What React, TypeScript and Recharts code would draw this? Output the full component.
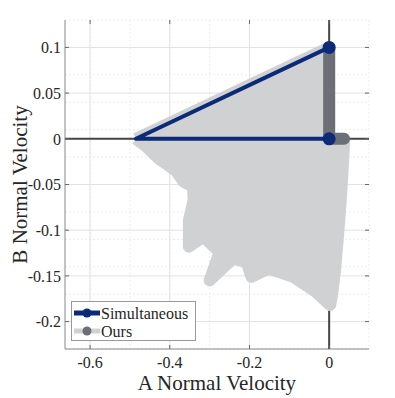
import React from "react";
import {
  ScatterChart,
  Scatter,
  XAxis,
  YAxis,
  CartesianGrid,
} from "recharts";

// axis ticks
const xTicks = [-0.6, -0.4, -0.2, 0];
const yTicks = [-0.2, -0.15, -0.1, -0.05, 0, 0.05, 0.1];
const X_MIN = -0.663;
const X_MAX = 0.1;
const Y_MIN = -0.23;
const Y_MAX = 0.13;

// "Simultaneous": two edges from the left vertex, markers at the ends
const simultaneousPath = [
  { a: 0, b: 0.1 },
  { a: -0.485, b: 0 },
  { a: 0, b: 0 },
];
const simultaneousMarkers = [
  { a: 0, b: 0.1 },
  { a: 0, b: 0 },
];

// "Ours": dark trace along the A = 0 edge
const oursPath = [
  { a: 0, b: 0.1 },
  { a: 0, b: 0 },
  { a: 0.0375, b: 0 },
];

// "Ours": reachable region outline (light grey cloud)
const oursRegion = [
  { a: -0.485, b: 0 },
  { a: 0, b: 0.1 },
  { a: 0, b: 0 },
  { a: 0.0375, b: -0.003 },
  { a: 0.035, b: -0.024 },
  { a: 0.03, b: -0.062 },
  { a: 0.0225, b: -0.105 },
  { a: 0.015, b: -0.143 },
  { a: 0.0075, b: -0.17 },
  { a: 0.0025, b: -0.182 },
  { a: -0.035, b: -0.167 },
  { a: -0.09, b: -0.151 },
  { a: -0.152, b: -0.142 },
  { a: -0.195, b: -0.151 },
  { a: -0.207, b: -0.135 },
  { a: -0.242, b: -0.131 },
  { a: -0.3, b: -0.155 },
  { a: -0.275, b: -0.124 },
  { a: -0.315, b: -0.107 },
  { a: -0.352, b: -0.118 },
  { a: -0.352, b: -0.089 },
  { a: -0.34, b: -0.067 },
  { a: -0.342, b: -0.052 },
  { a: -0.365, b: -0.047 },
  { a: -0.385, b: -0.035 },
  { a: -0.41, b: -0.027 },
  { a: -0.427, b: -0.022 },
  { a: -0.46, b: -0.008 },
];

const xMinor = Array.from({ length: 16 }, (_, i) => -0.65 + i * 0.05);
const yMinor = Array.from({ length: 37 }, (_, i) => -0.23 + i * 0.01);

const NAVY = "#0b2a78";
const DARK_GREY = "#6c6f75";
const LIGHT_GREY = "#d0d1d3";
const TEXT = "#262626";
const txt = { fontFamily: '"Liberation Serif", serif' };

const W = 395;
const H = 398;
const PLOT_LEFT = 65;
const PLOT_RIGHT = 369;
const PLOT_TOP = 20;
const PLOT_BOTTOM = 349;

const fmt = (v: number) => String(+v.toFixed(3));

const YTick = (p: any) => {
  const { y, payload } = p;
  return (
    <g>
      <text x={PLOT_LEFT - 4} y={y} dy="0.36em" textAnchor="end" fontSize={16} fill={TEXT} style={txt}>
        {fmt(payload.value)}
      </text>
      <line x1={PLOT_LEFT} x2={PLOT_LEFT + 4} y1={y} y2={y} stroke="#666" />
      <line x1={PLOT_RIGHT - 4} x2={PLOT_RIGHT} y1={y} y2={y} stroke="#666" />
    </g>
  );
};

const XTick = (p: any) => {
  const { x, payload } = p;
  return (
    <g>
      <text x={x} y={PLOT_BOTTOM + 8} dy="0.71em" textAnchor="middle" fontSize={16} fill={TEXT} style={txt}>
        {fmt(payload.value)}
      </text>
      <line x1={x} x2={x} y1={PLOT_BOTTOM} y2={PLOT_BOTTOM - 4} stroke="#666" />
      <line x1={x} x2={x} y1={PLOT_TOP} y2={PLOT_TOP + 4} stroke="#666" />
    </g>
  );
};

const noDot = () => <g />;

const Legend = () => (
  <svg
    width={127}
    height={42}
    style={{ position: "absolute", left: 70, top: 300 }}
  >
    <rect x={1.5} y={1.5} width={124} height={39} fill="#fff" stroke="#999" />
    <line x1={4} x2={30} y1={13} y2={13} stroke={NAVY} strokeWidth={5} />
    <circle cx={17} cy={13} r={4.5} fill={NAVY} />
    <text x={31} y={13} dy="0.35em" fontSize={16} fill={TEXT} style={txt}>
      Simultaneous
    </text>
    <line x1={4} x2={30} y1={31} y2={31} stroke={LIGHT_GREY} strokeWidth={5} />
    <circle cx={17} cy={31} r={4.5} fill={DARK_GREY} />
    <text x={31} y={31} dy="0.35em" fontSize={16} fill={TEXT} style={txt}>
      Ours
    </text>
  </svg>
);

export default function App() {
  return (
    <div style={{ position: "absolute", left: 0, top: 0, width: W, height: H, background: "#fff", ...txt }}>
      <ScatterChart
        width={W}
        height={H}
        margin={{ top: PLOT_TOP, right: W - PLOT_RIGHT, left: 0, bottom: 0 }}
      >
        <CartesianGrid
          stroke="#ececec"
          strokeDasharray="2 2"
          verticalValues={xMinor}
          horizontalValues={yMinor}
        />
        <CartesianGrid
          stroke="#e2e2e2"
          verticalValues={xTicks}
          horizontalValues={yTicks}
        />
        <XAxis
          dataKey="a"
          type="number"
          domain={[X_MIN, X_MAX]}
          ticks={xTicks}
          allowDataOverflow
          height={H - PLOT_BOTTOM}
          tickSize={0}
          tickLine={false}
          tick={XTick}
          stroke="#888"
          label={{
            content: () => (
              <text x={(PLOT_LEFT + PLOT_RIGHT) / 2} y={383} dominantBaseline="central" textAnchor="middle" fontSize={21} fill={TEXT} style={txt}>
                A Normal Velocity
              </text>
            ),
          }}
        />
        <XAxis
          xAxisId="top"
          orientation="top"
          dataKey="a"
          type="number"
          domain={[X_MIN, X_MAX]}
          allowDataOverflow
          height={0}
          tick={false}
          tickLine={false}
          stroke="#888"
        />
        <YAxis
          dataKey="b"
          type="number"
          domain={[Y_MIN, Y_MAX]}
          ticks={yTicks}
          allowDataOverflow
          width={PLOT_LEFT}
          tickSize={0}
          tickLine={false}
          tick={YTick}
          stroke="#888"
          label={{
            content: () => (
              <text
                x={20}
                y={(PLOT_TOP + PLOT_BOTTOM) / 2}
                transform={`rotate(-90 20 ${(PLOT_TOP + PLOT_BOTTOM) / 2})`}
                dominantBaseline="central"
                textAnchor="middle"
                fontSize={21}
                fill={TEXT}
                style={txt}
              >
                B Normal Velocity
              </text>
            ),
          }}
        />
        <YAxis
          yAxisId="right"
          orientation="right"
          dataKey="b"
          type="number"
          domain={[Y_MIN, Y_MAX]}
          allowDataOverflow
          width={0}
          tick={false}
          tickLine={false}
          stroke="#888"
        />

        {/* zero lines */}
        <Scatter
          data={[{ a: X_MIN, b: 0 }, { a: X_MAX, b: 0 }]}
          shape={noDot}
          line={{ stroke: "#444", strokeWidth: 2 }}
          isAnimationActive={false}
        />
        <Scatter
          data={[{ a: 0, b: Y_MIN }, { a: 0, b: Y_MAX }]}
          shape={noDot}
          line={{ stroke: "#444", strokeWidth: 2 }}
          isAnimationActive={false}
        />

        {/* Ours */}
        <Scatter
          data={[...oursRegion, oursRegion[0]]}
          shape={noDot}
          line={{ stroke: LIGHT_GREY, fill: LIGHT_GREY, strokeWidth: 12, strokeLinejoin: "round" }}
          isAnimationActive={false}
        />
        <Scatter
          data={oursPath}
          shape={noDot}
          line={{ stroke: DARK_GREY, strokeWidth: 12, strokeLinecap: "round", strokeLinejoin: "round" }}
          isAnimationActive={false}
        />

        {/* Simultaneous */}
        <Scatter
          data={simultaneousPath}
          shape={noDot}
          line={{ stroke: NAVY, strokeWidth: 4, strokeLinejoin: "round" }}
          isAnimationActive={false}
        />
        <Scatter
          data={simultaneousMarkers}
          shape={(p: any) => <circle cx={p.cx} cy={p.cy} r={6.5} fill={NAVY} />}
          isAnimationActive={false}
        />
      </ScatterChart>
      <Legend />
    </div>
  );
}
